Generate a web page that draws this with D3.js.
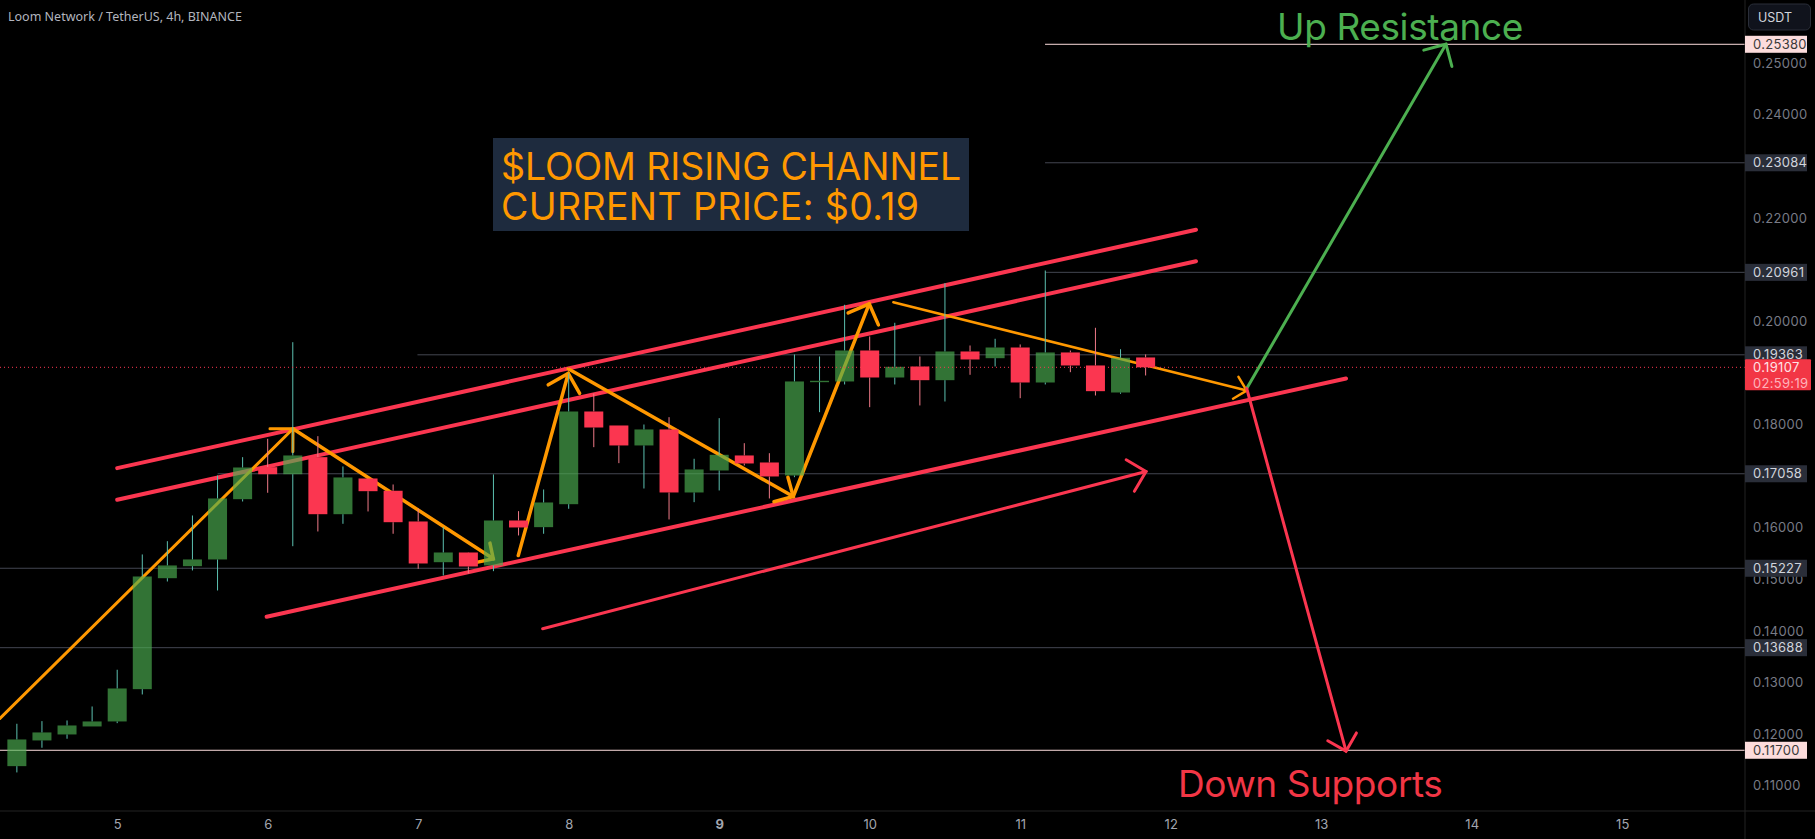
<!DOCTYPE html>
<html>
<head>
<meta charset="utf-8">
<script src="https://cdn.jsdelivr.net/npm/d3@7"></script>
<style>
  html, body { margin: 0; background: #000; overflow: hidden; }
  svg { display: block; }
  text { font-family: Inter, sans-serif; }
</style>
</head>
<body>
<div id="main"></div>
<script>
// candles, oldest first, one every 4h starting 4 candles before day 5
const opens = [.11379,.11877,.11993,.12148,.12245,.12871,.15021,.15254,.15384,.16552,.17172,.17036,.17366,.16261,.16953,.16715,.16120,.15331,.15519,.15268,.16139,.16010,.16455,.18251,.17980,.17593,.17903,.16682,.17108,.17399,.17263,.17011,.18819,.18833,.19433,.18910,.19123,.18858,.19414,.19284,.19491,.18813,.19395,.19143,.18619,.19298];
const closes = [.11896,.12032,.12167,.12245,.12884,.15054,.15268,.15384,.16566,.17166,.17036,.17399,.16261,.16973,.16707,.16106,.15306,.15519,.15248,.16139,.16004,.16488,.18251,.17941,.17593,.17903,.16682,.17128,.17412,.17244,.16992,.18833,.18846,.19433,.18910,.19117,.18858,.19414,.19259,.19491,.18813,.19395,.19143,.18645,.19292,.19107];
const highs = [.12200,.12251,.12264,.12535,.13247,.15481,.15738,.16236,.17011,.17366,.17722,.19594,.17773,.17186,.16959,.16837,.16372,.16010,.15525,.17031,.16320,.16740,.18988,.18600,.17980,.17999,.18141,.17335,.18122,.17637,.17443,.19356,.19317,.20319,.19705,.19970,.19317,.20737,.19530,.19660,.19550,.20983,.19433,.19873,.19458,.19356];
const lows = [.11257,.11735,.11910,.12148,.12212,.12768,.14957,.15171,.14783,.16507,.16676,.15641,.15926,.16075,.16314,.15882,.15203,.15074,.15113,.15157,.15849,.15882,.16366,.17560,.17250,.16759,.16159,.16494,.16721,.17205,.16566,.16978,.18238,.18775,.18335,.18775,.18368,.18445,.18962,.19123,.18509,.18775,.19013,.18561,.18594,.18949];

const dayTicks = [5, 6, 7, 8, 9, 10, 11, 12, 13, 14, 15];
const priceTicks = [.25, .24, .22, .20, .18, .16, .15, .14, .13, .12, .11];

// drawn price levels: [first day, price]
const strongLevels = [[4.2, .11700], [11.165, .25380]];
const weakLevels = [[11.165, .23084], [11.165, .20961], [6.995, .19363], [5.667, .17058], [4.2, .15227], [4.2, .13688]];
const lastPrice = .19107;
const countdown = "02:59:19";

// trend lines: [[day, price], [day, price]]
const upperChannel = [[5.0, .17153], [12.168, .21772]];
const middleChannel = [[5.0, .16540], [12.168, .21162]];
const lowerChannel = [[5.993, .14273], [13.165, .18891]];
const channelArrow = [[7.827, .14041], [11.836, .17089]];
const legUp1 = [[4.221, .12303], [6.168, .17916]];
const legDown1 = [[6.168, .17916], [7.499, .15397]];
const legUp2 = [[7.665, .15461], [7.997, .18988]];
const legDown2 = [[7.997, .19079], [9.492, .16604]];
const legUp3 = [[9.492, .16604], [9.997, .20338]];
const legDown3 = [[10.157, .20369], [12.505, .18658]];
const targetUp = [[12.505, .18697], [13.829, .25368]];
const targetDown = [[12.505, .18697], [13.165, .11669]];

const CONFIG = {
  width: 1815,
  height: 839,
  plotRight: 1745,
  plotBottom: 811,
  bodyWidth: 19,
  levelNudge: 0.7,
  colors: {
    bg: "#000",
    up: "#4caf50",
    upWick: "#5cc0b0",
    down: "#fb3650",
    downWick: "#f07a88",
    orange: "#ff9800",
    green: "#4caf50",
    border: "#232323",
    level: "#434651",
    strong: "#fcdcdc",
    tick: "#787b86",
    tag: "#2a2e39"
  }
};

const x = d3.scaleLinear().domain([5, 15]).range([117.2, 1622.2]);
const y = d3.scaleLinear().domain([.25, .11]).range([63.2, 785.7]);

const svg = d3.select("#main").append("svg")
  .attr("width", CONFIG.width)
  .attr("height", CONFIG.height)
  .style("background", CONFIG.colors.bg);

const candleDay = (i) => 5 + (i - 4) / 6;
const levelY = (price) => y(price) + CONFIG.levelNudge;

function drawLevels() {
  const c = CONFIG.colors;
  const rows = weakLevels.map(d => ({ day: d[0], price: d[1], color: c.level }))
    .concat(strongLevels.map(d => ({ day: d[0], price: d[1], color: c.strong })));
  svg.append("g").selectAll("line").data(rows).join("line")
    .attr("x1", d => Math.max(0, x(d.day)))
    .attr("x2", CONFIG.plotRight)
    .attr("y1", d => levelY(d.price))
    .attr("y2", d => levelY(d.price))
    .attr("stroke", d => d.color)
    .attr("stroke-width", 1);
}

// straight line with an open arrow head at its end, headLength 0 for none
function drawTrend(points, color, width, headLength) {
  const g = svg.append("g")
    .attr("fill", "none")
    .attr("stroke", color)
    .attr("stroke-width", width)
    .attr("stroke-linecap", "round");
  const line = d3.line().x(d => x(d[0])).y(d => y(d[1]));
  g.append("path").attr("d", line(points));
  if (!headLength) return;
  const tx = x(points[1][0]), ty = y(points[1][1]);
  const back = Math.atan2(y(points[0][1]) - ty, x(points[0][0]) - tx);
  const wing = (a) => [tx + headLength * Math.cos(a), ty + headLength * Math.sin(a)];
  g.append("path").attr("d", d3.line()([wing(back - Math.PI / 4), [tx, ty], wing(back + Math.PI / 4)]));
}

function drawAnnotations() {
  const c = CONFIG.colors;
  drawTrend(upperChannel, c.down, 4, 0);
  drawTrend(middleChannel, c.down, 4, 0);
  drawTrend(lowerChannel, c.down, 4, 0);
  drawTrend(channelArrow, c.down, 3, 23);
  drawTrend(legUp1, c.orange, 3, 23);
  drawTrend(legDown1, c.orange, 3.5, 16);
  drawTrend(legUp2, c.orange, 3.5, 23);
  drawTrend(legDown2, c.orange, 3.5, 20);
  drawTrend(legUp3, c.orange, 3.5, 23);
  drawTrend(legDown3, c.orange, 2.5, 16);
  drawTrend(targetUp, c.green, 3, 23);
  drawTrend(targetDown, c.down, 3, 21);
}

function drawCandles() {
  const c = CONFIG.colors;
  const rows = opens.map((o, i) => ({
    day: candleDay(i), high: highs[i], low: lows[i],
    top: Math.max(o, closes[i]), bottom: Math.min(o, closes[i]), rising: closes[i] >= o
  }));
  const g = svg.append("g").selectAll("g").data(rows).join("g");
  // wick stops at the body so it does not show through green bodies
  g.append("path")
    .attr("d", d => `M${x(d.day)},${y(d.high)}V${y(d.top)}M${x(d.day)},${y(d.bottom)}V${y(d.low)}`)
    .attr("fill", "none")
    .attr("stroke", d => d.rising ? c.upWick : c.downWick)
    .attr("stroke-width", 1);
  g.append("rect")
    .attr("x", d => x(d.day) - CONFIG.bodyWidth / 2)
    .attr("width", CONFIG.bodyWidth)
    .attr("y", d => y(d.top))
    .attr("height", d => Math.max(1, y(d.bottom) - y(d.top)))
    .attr("fill", d => d.rising ? c.up : c.down)
    .attr("opacity", d => d.rising ? .66 : 1);
}

function drawLastPriceLine() {
  svg.append("line")
    .attr("x1", 0).attr("x2", CONFIG.plotRight)
    .attr("y1", y(lastPrice)).attr("y2", y(lastPrice))
    .attr("stroke", CONFIG.colors.down)
    .attr("stroke-width", 1)
    .attr("stroke-dasharray", "1 3");
}

function drawAxes() {
  const c = CONFIG.colors;
  svg.append("line")
    .attr("x1", 0).attr("x2", CONFIG.width)
    .attr("y1", CONFIG.plotBottom).attr("y2", CONFIG.plotBottom)
    .attr("stroke", c.border);
  svg.append("line")
    .attr("x1", CONFIG.plotRight).attr("x2", CONFIG.plotRight)
    .attr("y1", 0).attr("y2", CONFIG.height)
    .attr("stroke", c.border);

  const bottom = svg.append("g")
    .attr("transform", `translate(0,${CONFIG.plotBottom})`)
    .call(d3.axisBottom(x).tickValues(dayTicks).tickSize(0).tickPadding(9).tickFormat(d3.format("d")));
  bottom.select(".domain").remove();
  bottom.selectAll("text")
    .attr("fill", "#a3a6af")
    .style("font-family", "Inter, sans-serif")
    .style("font-size", "13px")
    .style("font-weight", d => d === 9 ? 700 : 400);

  const right = svg.append("g")
    .attr("transform", `translate(${CONFIG.plotRight},0)`)
    .call(d3.axisRight(y).tickValues(priceTicks).tickSize(0).tickPadding(8).tickFormat(d3.format(".5f")));
  right.select(".domain").remove();
  right.selectAll("text")
    .attr("fill", c.tick)
    .style("font-family", "Inter, sans-serif")
    .style("font-size", "13px")
    .style("letter-spacing", ".3px");
}

function priceTag(price, bg, fg) {
  svg.append("rect")
    .attr("x", CONFIG.plotRight).attr("width", 62)
    .attr("y", levelY(price) - 8.5).attr("height", 17)
    .attr("fill", bg);
  svg.append("text")
    .attr("x", CONFIG.plotRight + 8)
    .attr("y", levelY(price))
    .attr("dy", ".35em")
    .attr("fill", fg)
    .style("font-size", "13px")
    .style("letter-spacing", ".3px")
    .text(d3.format(".5f")(price));
}

function drawTags() {
  const c = CONFIG.colors;
  weakLevels.forEach(d => priceTag(d[1], c.tag, "#d1d4dc"));
  strongLevels.forEach(d => priceTag(d[1], c.strong, "#3a3a3a"));

  const top = y(lastPrice) - 8;
  svg.append("rect")
    .attr("x", CONFIG.plotRight).attr("width", 66)
    .attr("y", top).attr("height", 31)
    .attr("rx", 1)
    .attr("fill", "#f23645");
  svg.append("text")
    .attr("x", CONFIG.plotRight + 8).attr("y", y(lastPrice))
    .attr("dy", ".35em").attr("fill", "#ffe3e6")
    .style("font-size", "13px").style("letter-spacing", ".3px")
    .text(d3.format(".5f")(lastPrice));
  svg.append("text")
    .attr("x", CONFIG.plotRight + 8).attr("y", y(lastPrice) + 16)
    .attr("dy", ".35em").attr("fill", "#ffb3bb")
    .style("font-size", "13px").style("letter-spacing", ".3px")
    .text(countdown);

  svg.append("rect")
    .attr("x", 1748.5).attr("y", 4).attr("width", 62).attr("height", 26).attr("rx", 5)
    .attr("fill", "#10131c").attr("stroke", "#2a2e39");
  svg.append("text")
    .attr("x", 1758).attr("y", 21.5)
    .attr("fill", "#d1d4dc")
    .style("font-size", "12.5px")
    .text("USDT");
}

function drawLabels() {
  const c = CONFIG.colors;
  svg.append("text")
    .attr("x", 8).attr("y", 21)
    .attr("fill", "#b2b5be")
    .style("font-family", "'Noto Sans', sans-serif")
    .style("font-size", "12.5px")
    .text("Loom Network / TetherUS, 4h, BINANCE");

  svg.append("rect")
    .attr("x", 493).attr("y", 138).attr("width", 476).attr("height", 93)
    .attr("fill", "#1e2b3e");
  svg.append("text")
    .attr("x", 501).attr("y", 180)
    .attr("fill", c.orange).style("font-size", "37.5px").style("letter-spacing", "-.12px")
    .text("$LOOM RISING CHANNEL");
  svg.append("text")
    .attr("x", 501).attr("y", 220)
    .attr("fill", c.orange).style("font-size", "37.5px").style("letter-spacing", ".35px")
    .text("CURRENT PRICE: $0.19");

  svg.append("text")
    .attr("x", 1277).attr("y", 40)
    .attr("fill", c.green).style("font-size", "37px").style("letter-spacing", "-.4px")
    .text("Up Resistance");
  svg.append("text")
    .attr("x", 1178).attr("y", 797)
    .attr("fill", "#f23645").style("font-size", "37px").style("letter-spacing", "-.4px")
    .text("Down Supports");
}

drawLevels();
drawAnnotations();
drawCandles();
drawLastPriceLine();
drawAxes();
drawTags();
drawLabels();
</script>
</body>
</html>
